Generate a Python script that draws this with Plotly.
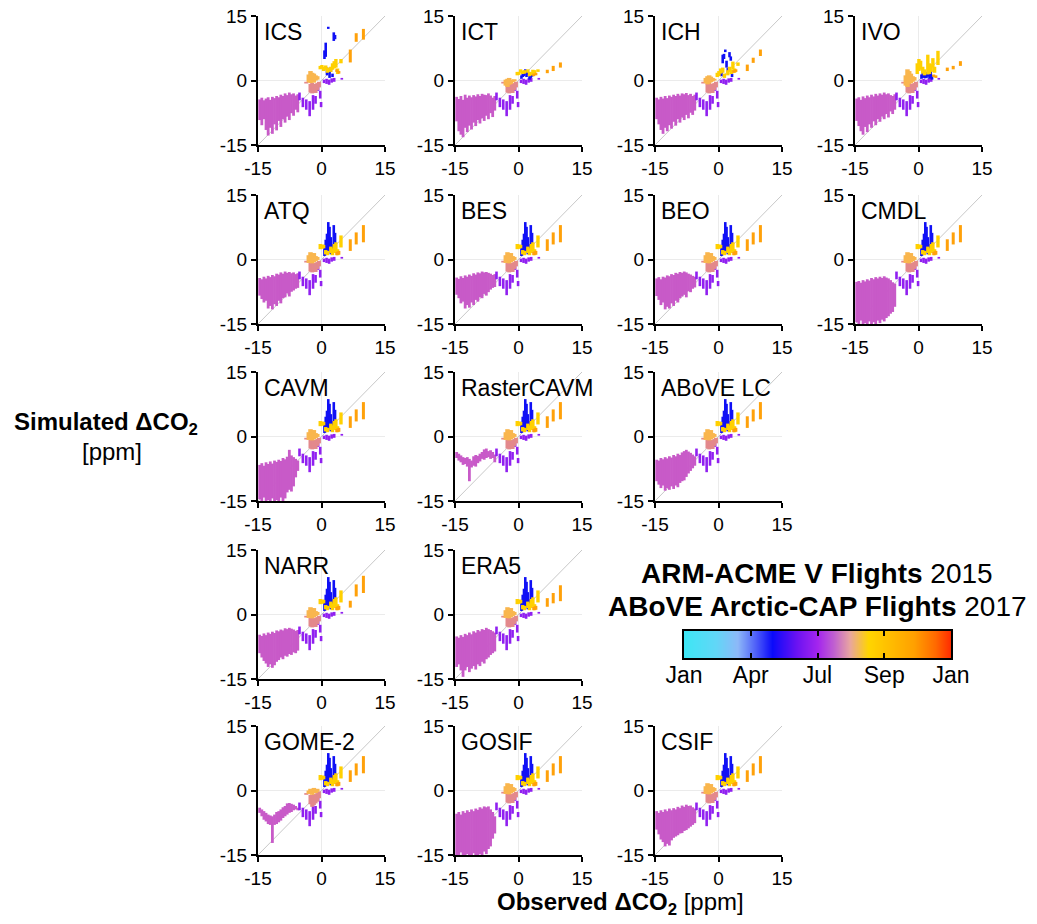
import plotly.graph_objects as go

W, H = 1037, 924

# ---------------- panels ----------------
PANEL_NAMES = ["ICS", "ICT", "ICH", "IVO",
               "ATQ", "BES", "BEO", "CMDL",
               "CAVM", "RasterCAVM", "ABoVE LC",
               "NARR", "ERA5",
               "GOME-2", "GOSIF", "CSIF"]
PANEL_ROW = [0, 0, 0, 0, 1, 1, 1, 1, 2, 2, 2, 3, 3, 4, 4, 4]
PANEL_COL = [0, 1, 2, 3, 0, 1, 2, 3, 0, 1, 2, 0, 1, 0, 1, 2]

AXIS_TICKS = [-15, 0, 15]
AXIS_TICKTEXT = ["-15", "0", "15"]
DIAG = [-15, 15]

# ---------------- observed x positions of each month group ----------------
MAG_X = [-14.6, -14.1, -13.6, -13.1, -12.6, -12.1, -11.6, -11.1, -10.6, -10.1,
         -9.6, -9.1, -8.6, -8.1, -7.6, -7.1, -6.6, -6.1, -5.6]
PURPLE_L_X = [-5.2, -4.4, -3.6, -2.8, -2.0, -1.4, -0.8, -0.3, -0.1]
PURPLE_R_X = [0.6, 1.2, 1.8, 2.4, 3.0, 4.8]
SALMON_X = [-3.6, -2.6, -2.2, -1.8, -1.4, -1.0, -0.6]
SANDY_X = [-3.0, -2.6, -2.2, -1.8, -1.4, -1.0]
BLUE_X = [0.7, 1.0, 1.3, 1.6, 1.9, 2.2, 2.6, 2.9, 3.2]
GOLD_X = [-0.3, 0.1, 0.5, 1.0, 1.4, 2.2, 2.6, 3.0, 3.4, 3.8, 4.6]
ORANGE_X = [3.6, 4.1, 6.8, 8.2, 9.9]

# ---------------- simulated ranges (low / high) ----------------
MAG_LO_ICS = [-9.2, -10.4, -9.0, -11.5, -12.8, -11.0, -12.4, -10.2, -11.6, -9.4, -10.8, -9.0, -9.8, -8.4, -9.2, -7.6, -8.2, -6.8, -7.4]
MAG_HI_ICS = [-4.4, -4.0, -4.6, -4.2, -3.9, -4.5, -3.8, -4.1, -3.6, -3.9, -3.3, -3.6, -3.0, -3.4, -2.8, -3.2, -3.0, -3.5, -3.2]
MAG_LO_ICT = [-9.5, -11.8, -12.6, -13.2, -11.0, -12.0, -10.5, -11.4, -9.8, -10.6, -9.2, -10.0, -8.8, -9.4, -8.2, -9.0, -7.6, -8.5, -7.0]
MAG_HI_ICT = [-3.8, -4.3, -3.6, -4.5, -3.3, -4.0, -3.5, -3.9, -3.4, -3.7, -3.2, -3.6, -3.1, -3.3, -3.4, -3.0, -3.5, -4.0, -3.6]
MAG_LO_ICH = [-9.0, -10.2, -11.5, -12.4, -11.0, -11.8, -10.4, -11.2, -9.6, -10.5, -9.0, -9.8, -8.6, -9.2, -8.0, -8.8, -7.5, -8.0, -7.0]
MAG_HI_ICH = [-4.0, -4.4, -3.8, -4.2, -3.6, -4.1, -3.5, -3.8, -3.3, -3.6, -3.1, -3.5, -3.0, -3.2, -2.9, -3.4, -3.1, -3.6, -3.3]
MAG_LO_IVO = [-9.4, -10.6, -11.8, -12.6, -10.8, -12.0, -10.2, -11.0, -9.5, -10.4, -9.0, -9.6, -8.4, -9.0, -7.8, -8.6, -7.2, -7.8, -6.8]
MAG_HI_IVO = [-4.2, -3.9, -4.5, -3.7, -4.1, -3.5, -3.9, -3.3, -3.7, -3.1, -3.5, -3.0, -3.3, -2.8, -3.2, -3.0, -3.4, -3.6, -3.2]
MAG_LO_ATQ = [-8.4, -9.2, -10.0, -9.6, -11.4, -10.8, -11.6, -10.4, -10.8, -9.6, -10.2, -9.0, -8.8, -7.9, -8.6, -7.5, -7.2, -6.8, -6.6]
MAG_HI_ATQ = [-4.3, -4.6, -4.0, -4.4, -3.8, -4.1, -3.6, -3.9, -3.3, -3.5, -3.0, -3.3, -2.8, -3.1, -2.9, -3.2, -3.0, -3.4, -3.2]
MAG_LO_BES = [-8.2, -9.0, -10.2, -9.8, -11.4, -10.6, -11.2, -10.0, -10.6, -9.4, -9.8, -8.8, -9.0, -8.0, -8.4, -7.6, -7.0, -6.6, -6.4]
MAG_HI_BES = [-4.2, -4.5, -3.9, -4.3, -3.7, -4.0, -3.5, -3.8, -3.2, -3.5, -3.0, -3.2, -2.8, -3.0, -2.9, -3.1, -3.3, -3.6, -3.4]
MAG_LO_BEO = [-8.5, -9.4, -10.6, -10.0, -11.6, -11.0, -11.4, -10.2, -10.8, -9.6, -10.0, -9.0, -8.6, -8.2, -8.8, -7.4, -7.6, -6.8, -6.5]
MAG_HI_BEO = [-4.4, -4.1, -4.6, -4.0, -4.2, -3.7, -3.9, -3.4, -3.6, -3.1, -3.3, -2.9, -3.1, -2.8, -3.0, -3.3, -3.5, -3.8, -4.0]
MAG_LO_CMDL = [-14.6, -15.5, -14.2, -15.5, -14.8, -15.5, -14.4, -15.5, -14.6, -15.5, -14.2, -14.8, -14.0, -14.4, -13.6, -13.2, -12.6, -12.2, -11.0]
MAG_HI_CMDL = [-5.2, -5.0, -5.4, -4.8, -5.1, -4.6, -4.9, -4.3, -4.6, -4.1, -4.4, -4.0, -4.3, -3.9, -4.2, -4.4, -4.8, -5.3, -5.6]
MAG_LO_CAVM = [-14.6, -15.5, -14.2, -15.5, -14.8, -15.5, -14.4, -15.5, -14.8, -15.5, -14.2, -15.0, -14.4, -13.0, -12.4, -12.8, -11.6, -9.5, -8.0]
MAG_HI_CAVM = [-6.6, -6.2, -6.8, -6.0, -6.4, -5.8, -6.3, -5.6, -5.9, -5.4, -5.7, -5.0, -5.3, -4.7, -3.1, -4.4, -4.8, -5.2, -5.6]
MAG_LO_RCAVM = [-5.0, -5.6, -6.0, -6.6, -6.4, -7.0, -10.4, -7.2, -6.8, -7.0, -6.2, -5.8, -5.2, -5.4, -5.0, -4.8, -5.2, -5.0, -6.0]
MAG_HI_RCAVM = [-3.6, -4.0, -4.4, -4.8, -5.0, -4.8, -5.2, -5.6, -4.6, -4.3, -4.5, -4.0, -3.6, -3.0, -2.8, -3.4, -3.2, -3.6, -4.2]
MAG_LO_ABLC = [-10.4, -11.2, -12.0, -11.4, -12.6, -12.0, -12.4, -11.6, -12.2, -11.4, -11.8, -10.8, -10.4, -10.2, -9.4, -8.6, -8.0, -7.4, -6.8]
MAG_HI_ABLC = [-5.4, -5.6, -5.0, -5.3, -4.8, -5.1, -4.6, -4.9, -4.3, -4.6, -4.0, -4.3, -3.7, -3.4, -3.1, -3.5, -3.8, -4.2, -4.6]
MAG_LO_NARR = [-9.0, -10.0, -10.8, -11.4, -12.2, -11.6, -12.4, -11.8, -11.0, -10.6, -10.0, -10.4, -9.6, -9.8, -9.2, -9.4, -8.8, -9.0, -8.4]
MAG_HI_NARR = [-4.7, -5.0, -4.4, -4.8, -4.2, -4.5, -4.0, -4.3, -3.7, -3.9, -3.5, -3.7, -3.2, -3.4, -3.1, -3.3, -3.5, -3.8, -3.6]
MAG_LO_ERA5 = [-12.2, -11.6, -13.0, -14.5, -13.0, -12.2, -13.4, -12.6, -12.0, -12.8, -11.6, -12.0, -11.0, -11.4, -10.4, -10.0, -9.4, -9.0, -8.6]
MAG_HI_ERA5 = [-5.1, -5.4, -4.8, -5.2, -4.5, -4.8, -4.2, -4.6, -3.9, -4.2, -3.6, -3.9, -3.4, -3.6, -3.1, -3.4, -3.6, -3.9, -4.2]
MAG_LO_GOME = [-5.2, -6.0, -6.8, -7.2, -7.8, -8.0, -12.2, -8.0, -7.8, -7.4, -7.0, -6.4, -6.0, -5.6, -5.2, -5.0, -4.6, -4.4, -4.6]
MAG_HI_GOME = [-4.0, -4.4, -4.8, -5.2, -5.6, -5.8, -6.0, -5.6, -5.0, -4.8, -4.4, -3.9, -3.6, -3.0, -2.9, -3.1, -3.3, -3.6, -4.0]
MAG_LO_GOSIF = [-15.5, -15.5, -14.4, -15.5, -15.5, -14.8, -15.5, -15.5, -14.6, -15.5, -15.5, -14.8, -15.5, -14.2, -14.8, -13.6, -13.0, -11.2, -10.0]
MAG_HI_GOSIF = [-5.4, -5.0, -5.6, -4.8, -5.2, -4.6, -5.0, -4.4, -4.8, -4.2, -4.5, -3.9, -4.2, -3.7, -3.9, -3.7, -4.4, -5.0, -6.0]
MAG_LO_CSIF = [-9.1, -10.2, -11.4, -12.0, -13.0, -12.4, -12.8, -11.6, -11.0, -10.7, -10.4, -10.0, -9.9, -9.4, -9.2, -8.8, -8.4, -8.0, -7.6]
MAG_HI_CSIF = [-4.8, -5.2, -4.6, -5.0, -4.4, -4.8, -4.2, -4.6, -4.1, -4.4, -3.8, -4.1, -3.5, -3.8, -3.3, -3.6, -3.5, -3.9, -4.2]

PURPLE_L_LO = [-4.6, -6.2, -6.8, -8.3, -6.8, -5.4, -2.4, -4.2, -6.2]
PURPLE_L_HI = [-2.8, -4.0, -4.4, -4.8, -3.4, -3.6, -1.0, -2.4, -5.0]
PURPLE_R_LO = [-0.6, -0.8, -1.0, -0.5, -0.3, 0.2]
PURPLE_R_HI = [0.2, 0.4, 0.2, 0.5, 0.6, 0.6]

SALMON_LO = [-0.7, -2.8, -3.0, -2.7, -2.9, -2.2, -1.6]
SALMON_HI = [-0.3, -0.8, -0.5, -0.9, -0.8, -0.6, -0.3]
SALMON_LO_GOME = [-1.0, -3.2, -3.8, -3.4, -3.0, -2.6, -1.8]
SALMON_HI_GOME = [-0.6, -1.0, -1.4, -0.8, -1.0, -0.6, -0.2]
SANDY_LO = [-0.8, -0.6, -0.9, -0.6, -0.4, -0.1]
SANDY_HI = [1.0, 1.7, 1.4, 1.5, 0.8, 0.6]
SANDY_LO_ICS = [-0.4, -0.6, -0.2, -0.5, 0.0, 0.2]
SANDY_HI_ICS = [1.4, 2.2, 1.8, 1.6, 1.2, 1.0]
SANDY_LO_ICT = [-1.2, -1.5, -1.0, -0.8, -0.4, -0.2]
SANDY_HI_ICT = [0.2, 0.4, 0.6, 0.2, 0.0, 0.3]
SANDY_LO_ICH = [-0.6, -0.9, -0.7, -0.4, -0.2, 0.0]
SANDY_HI_ICH = [0.6, 1.0, 1.2, 0.9, 0.6, 0.4]
SANDY_LO_IVO = [-1.2, -1.5, -0.8, -0.6, -0.3, 0.0]
SANDY_HI_IVO = [1.2, 2.6, 2.2, 1.6, 1.0, 0.8]
SANDY_LO_GOME = [-0.8, -0.6, -1.0, -0.4, -0.6, -0.3]
SANDY_HI_GOME = [0.0, 0.4, 0.2, 0.6, 0.2, 0.4]

BLUE_LO = [0.8, 1.0, 1.4, 2.0, 1.6, 1.2, 1.4, 2.4, 2.0]
BLUE_HI = [3.4, 4.6, 6.0, 8.7, 7.6, 5.2, 3.6, 8.0, 6.2]
BLUE_LO_ICS = [5.0, 5.5, 1.2, 12.0, 0.6, 2.0, 0.8, 9.2, 9.6]
BLUE_HI_ICS = [7.0, 8.8, 3.0, 12.5, 2.0, 3.0, 1.6, 11.2, 10.6]
BLUE_LO_ICT = [0.4, 0.8, 1.0, 1.4, 0.8, 1.2, 0.2, 0.6, 0.9]
BLUE_HI_ICT = [1.2, 1.8, 2.2, 2.6, 2.0, 2.4, 1.0, 1.4, 1.5]
BLUE_LO_ICH = [1.0, 4.0, 5.0, 6.6, 3.0, 2.0, 5.4, 4.6, 0.8]
BLUE_HI_ICH = [2.0, 6.0, 6.2, 7.2, 4.6, 3.0, 6.6, 5.6, 1.6]
BLUE_LO_IVO = [0.4, 0.6, 0.8, 0.5, 0.6, 0.9, 0.4, 0.6, 0.2]
BLUE_HI_IVO = [1.4, 1.8, 1.6, 1.5, 2.0, 1.9, 1.6, 2.2, 1.2]

GOLD_LO = [2.4, 2.5, 2.6, 1.2, 1.0, 1.5, 1.0, 1.5, 2.0, 1.0, 2.8]
GOLD_HI = [3.6, 3.5, 3.4, 2.2, 2.0, 3.0, 2.6, 3.6, 4.0, 2.4, 5.6]
GOLD_LO_ICS = [2.6, 2.8, 2.2, 2.5, 1.8, 2.0, 2.5, 2.8, 3.0, 1.5, 4.0]
GOLD_HI_ICS = [3.4, 3.6, 3.2, 3.5, 3.0, 3.2, 4.0, 4.5, 5.0, 2.8, 5.0]
GOLD_LO_ICT = [1.2, 1.3, 1.8, 1.5, 1.6, 1.8, 1.0, 1.2, 1.5, 1.6, 2.0]
GOLD_HI_ICT = [2.0, 2.0, 2.6, 2.3, 2.4, 2.6, 2.0, 2.0, 2.5, 2.4, 2.6]
GOLD_LO_ICH = [0.8, 1.0, 1.6, 1.8, 0.6, 1.2, 2.0, 1.5, 2.6, 1.8, 3.4]
GOLD_HI_ICH = [1.8, 2.2, 2.8, 3.0, 1.6, 2.4, 3.2, 2.6, 4.4, 2.8, 4.2]
GOLD_LO_IVO = [1.5, 2.2, 2.5, 1.6, 1.2, 1.4, 1.5, 2.0, 3.0, 1.8, 3.6]
GOLD_HI_IVO = [4.0, 5.0, 4.6, 3.2, 2.6, 6.0, 4.0, 3.8, 5.2, 3.2, 6.9]

ORANGE_LO = [1.0, 1.1, 2.0, 3.5, 4.0]
ORANGE_HI = [1.8, 2.0, 4.7, 6.3, 8.0]
ORANGE_LO_ICS = [2.0, 1.6, 4.2, 9.0, 9.5]
ORANGE_HI_ICS = [2.6, 2.2, 7.2, 11.0, 12.0]
ORANGE_LO_ICT = [1.0, 1.2, 1.7, 2.2, 3.0]
ORANGE_HI_ICT = [1.6, 1.8, 2.5, 3.4, 4.2]
ORANGE_LO_ICH = [1.8, 2.0, 2.2, 4.1, 5.7]
ORANGE_HI_ICH = [2.4, 2.6, 3.7, 5.3, 7.2]
ORANGE_LO_IVO = [0.8, 0.6, 2.2, 2.6, 3.4]
ORANGE_HI_IVO = [1.4, 1.2, 3.0, 3.4, 4.5]
ORANGE_LO_NARR = [1.0, 1.1, 1.6, 4.2, 5.0]
ORANGE_HI_NARR = [1.8, 2.0, 3.2, 7.0, 9.0]
ORANGE_LO_ERA5 = [1.0, 1.1, 1.8, 2.6, 3.1]
ORANGE_HI_ERA5 = [1.8, 2.0, 3.8, 5.0, 6.8]

# colour bar
CBAR_TICKVALS = [0, 0.25, 0.5, 0.75, 1]
CBAR_TICKTEXT = ["Jan", "Apr", "Jul", "Sep", "Jan"]
CBAR_Z = [[0, 1], [0, 1]]
CBAR_X = [0, 1]
CBAR_Y = [0, 1]

MONTH_SCALE = [[0.0, "#3DE6F5"], [0.12, "#62D6F7"], [0.2, "#8DB8F8"], [0.27, "#4C5CF8"],
               [0.33, "#0A0AFA"], [0.42, "#6A12F2"], [0.5, "#A425EE"], [0.56, "#C060D0"],
               [0.62, "#E8A5A0"], [0.69, "#FFD500"], [0.76, "#FFC000"], [0.86, "#FFA000"],
               [0.94, "#FF6A00"], [1.0, "#FF2A00"]]

C_MAG = "#C85AC8"
C_PURPLE = "#9020F0"
C_BLUE = "#1010F5"
C_SALMON = "#E3898C"
C_SANDY = "#F9B64E"
C_GOLD = "#FFD000"
C_ORANGE = "#FFA10A"

MAG_DATA = [(MAG_LO_ICS, MAG_HI_ICS), (MAG_LO_ICT, MAG_HI_ICT), (MAG_LO_ICH, MAG_HI_ICH),
            (MAG_LO_IVO, MAG_HI_IVO), (MAG_LO_ATQ, MAG_HI_ATQ), (MAG_LO_BES, MAG_HI_BES),
            (MAG_LO_BEO, MAG_HI_BEO), (MAG_LO_CMDL, MAG_HI_CMDL), (MAG_LO_CAVM, MAG_HI_CAVM),
            (MAG_LO_RCAVM, MAG_HI_RCAVM), (MAG_LO_ABLC, MAG_HI_ABLC), (MAG_LO_NARR, MAG_HI_NARR),
            (MAG_LO_ERA5, MAG_HI_ERA5), (MAG_LO_GOME, MAG_HI_GOME), (MAG_LO_GOSIF, MAG_HI_GOSIF),
            (MAG_LO_CSIF, MAG_HI_CSIF)]
SANDY_VAR = {"ICS": (SANDY_LO_ICS, SANDY_HI_ICS), "ICT": (SANDY_LO_ICT, SANDY_HI_ICT),
             "ICH": (SANDY_LO_ICH, SANDY_HI_ICH), "IVO": (SANDY_LO_IVO, SANDY_HI_IVO),
             "GOME-2": (SANDY_LO_GOME, SANDY_HI_GOME)}
SALMON_VAR = {"GOME-2": (SALMON_LO_GOME, SALMON_HI_GOME)}
BLUE_VAR = {"ICS": (BLUE_LO_ICS, BLUE_HI_ICS), "ICT": (BLUE_LO_ICT, BLUE_HI_ICT),
            "ICH": (BLUE_LO_ICH, BLUE_HI_ICH), "IVO": (BLUE_LO_IVO, BLUE_HI_IVO)}
GOLD_VAR = {"ICS": (GOLD_LO_ICS, GOLD_HI_ICS), "ICT": (GOLD_LO_ICT, GOLD_HI_ICT),
            "ICH": (GOLD_LO_ICH, GOLD_HI_ICH), "IVO": (GOLD_LO_IVO, GOLD_HI_IVO)}
ORANGE_VAR = {"ICS": (ORANGE_LO_ICS, ORANGE_HI_ICS), "ICT": (ORANGE_LO_ICT, ORANGE_HI_ICT),
              "ICH": (ORANGE_LO_ICH, ORANGE_HI_ICH), "IVO": (ORANGE_LO_IVO, ORANGE_HI_IVO),
              "NARR": (ORANGE_LO_NARR, ORANGE_HI_NARR), "ERA5": (ORANGE_LO_ERA5, ORANGE_HI_ERA5)}

# ---------------- layout geometry (pixels) ----------------
COL_LEFT = [258, 455, 655, 855]
ROW_TOP = [16, 195, 372, 550, 726]
PW, PH = 127, 129

FONT = "Liberation Sans, Arial, sans-serif"


def segs(xs, lo, hi):
    X, Y = [], []
    for x, a, b in zip(xs, lo, hi):
        X += [x, x, None]
        Y += [a, b, None]
    return X, Y


def sfx(k):
    return "" if k == 1 else str(k)


fig = go.Figure()
layout = {}
annotations = []

for i, name in enumerate(PANEL_NAMES):
    k = i + 1
    xa, ya = "x" + sfx(k), "y" + sfx(k)
    x0 = COL_LEFT[PANEL_COL[i]]
    yt = ROW_TOP[PANEL_ROW[i]]
    ax_common = dict(range=[-15, 15], tickvals=AXIS_TICKS, ticktext=AXIS_TICKTEXT,
                     showline=True, linecolor="black", linewidth=2,
                     ticks="outside", ticklen=5, tickwidth=2, tickcolor="black",
                     showgrid=True, gridcolor="#EBEBEB", gridwidth=1, zeroline=False,
                     tickfont=dict(family=FONT, size=19, color="black"),
                     automargin=False, fixedrange=True)
    layout["xaxis" + sfx(k)] = dict(domain=[x0 / W, (x0 + PW) / W], anchor=ya, **ax_common)
    layout["yaxis" + sfx(k)] = dict(domain=[1 - (yt + PH) / H, 1 - yt / H], anchor=xa, **ax_common)

    fig.add_trace(go.Scatter(x=DIAG, y=DIAG, mode="lines",
                             line=dict(color="#C8C8C8", width=1),
                             xaxis=xa, yaxis=ya, hoverinfo="skip", showlegend=False))

    groups = [
        (MAG_X, MAG_DATA[i], C_MAG, 2.8),
        (PURPLE_L_X, (PURPLE_L_LO, PURPLE_L_HI), C_PURPLE, 2.6),
        (SALMON_X, SALMON_VAR.get(name, (SALMON_LO, SALMON_HI)), C_SALMON, 4.0),
        (SANDY_X, SANDY_VAR.get(name, (SANDY_LO, SANDY_HI)), C_SANDY, 4.5),
        (PURPLE_R_X, (PURPLE_R_LO, PURPLE_R_HI), C_PURPLE, 2.6),
        (BLUE_X, BLUE_VAR.get(name, (BLUE_LO, BLUE_HI)), C_BLUE, 2.6),
        (GOLD_X, GOLD_VAR.get(name, (GOLD_LO, GOLD_HI)), C_GOLD, 3.4),
        (ORANGE_X, ORANGE_VAR.get(name, (ORANGE_LO, ORANGE_HI)), C_ORANGE, 3.0),
    ]
    for xs, (lo, hi), col, w in groups:
        X, Y = segs(xs, lo, hi)
        fig.add_trace(go.Scatter(x=X, y=Y, mode="lines", line=dict(color=col, width=w),
                                 xaxis=xa, yaxis=ya, hoverinfo="skip", showlegend=False))

    annotations.append(dict(text=name, xref=xa + " domain", yref=ya + " domain",
                            x=0.03, y=0.875, xanchor="left", yanchor="middle",
                            showarrow=False, font=dict(family=FONT, size=23, color="black")))

# ---------------- colour bar as a smooth heatmap ----------------
kc = len(PANEL_NAMES) + 1
fig.add_trace(go.Heatmap(z=CBAR_Z, x=CBAR_X, y=CBAR_Y, colorscale=MONTH_SCALE,
                         zmin=0, zmax=1, zsmooth="best", showscale=False,
                         hoverinfo="skip", xaxis=f"x{kc}", yaxis=f"y{kc}"))
layout[f"xaxis{kc}"] = dict(domain=[684 / W, 951 / W], anchor=f"y{kc}", range=[0, 1],
                            tickvals=CBAR_TICKVALS, ticktext=CBAR_TICKTEXT,
                            ticks="inside", ticklen=5, tickwidth=2, tickcolor="black",
                            ticklabelstandoff=-5,
                            showline=True, linecolor="black", linewidth=2, mirror="ticks",
                            showgrid=False, zeroline=False, fixedrange=True, automargin=False,
                            tickfont=dict(family=FONT, size=23, color="black"))
layout[f"yaxis{kc}"] = dict(domain=[1 - 658 / H, 1 - 631 / H], anchor=f"x{kc}", range=[0, 1],
                            showline=True, linecolor="black", linewidth=2, mirror=True,
                            showticklabels=False, ticks="", showgrid=False, zeroline=False,
                            fixedrange=True, automargin=False)

# ---------------- texts ----------------
annotations += [
    dict(text="<b>ARM-ACME V Flights</b> 2015", xref="paper", yref="paper",
         x=817 / W, y=1 - 573 / H, xanchor="center", yanchor="middle", showarrow=False,
         font=dict(family=FONT, size=28, color="black")),
    dict(text="<b>ABoVE Arctic-CAP Flights</b> 2017", xref="paper", yref="paper",
         x=817 / W, y=1 - 606 / H, xanchor="center", yanchor="middle", showarrow=False,
         font=dict(family=FONT, size=28, color="black")),
    dict(text="<b>Simulated ΔCO<sub>2</sub></b>", xref="paper", yref="paper",
         x=106 / W, y=1 - 423 / H, xanchor="center", yanchor="middle", showarrow=False,
         font=dict(family=FONT, size=24, color="black")),
    dict(text="[ppm]", xref="paper", yref="paper",
         x=112 / W, y=1 - 451 / H, xanchor="center", yanchor="middle", showarrow=False,
         font=dict(family=FONT, size=24, color="black")),
    dict(text="<b>Observed ΔCO<sub>2</sub></b> [ppm]", xref="paper", yref="paper",
         x=620 / W, y=1 - 903 / H, xanchor="center", yanchor="middle", showarrow=False,
         font=dict(family=FONT, size=24, color="black")),
]

fig.update_layout(width=W, height=H, margin=dict(l=0, r=0, t=0, b=0, autoexpand=False),
                  paper_bgcolor="white", plot_bgcolor="white",
                  annotations=annotations, showlegend=False, **layout)

fig.write_html("out.html", config={"displayModeBar": False})
